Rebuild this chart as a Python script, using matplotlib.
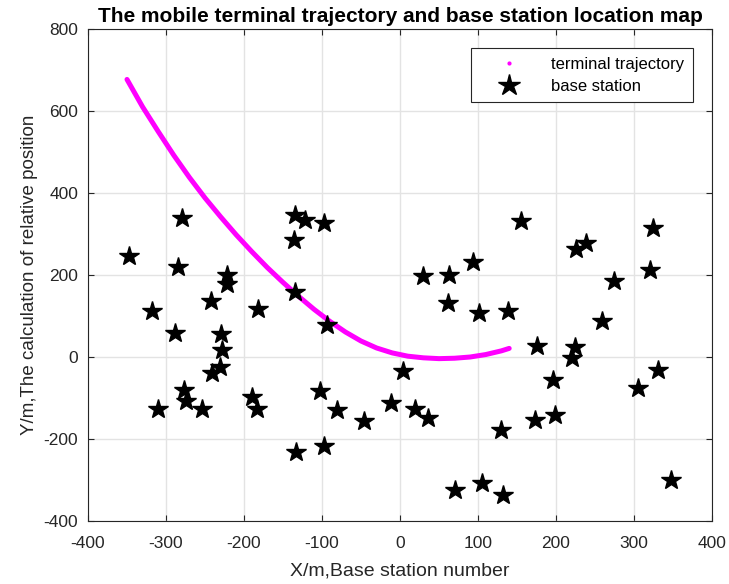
import numpy as np
import matplotlib
matplotlib.use("Agg")
import matplotlib.pyplot as plt
from matplotlib.lines import Line2D

plt.rcParams["font.family"] = ["Liberation Sans", "DejaVu Sans"]
plt.rcParams["axes.unicode_minus"] = False

# trajectory
traj_x = [-350, -330, -310, -290, -270, -250, -230, -210, -190, -170,
          -150, -130, -110, -90, -70, -50, -30, -10, 10, 30,
          50, 70, 90, 110, 130, 140]
traj_y = [677, 610, 550, 492, 438, 388, 342, 298, 257, 218,
          182, 148, 116, 87, 61, 39, 22, 10, 2, -2,
          -4, -3, 0, 6, 15, 21]

# base station positions
bs_x = [-348, -318, -280, -284, -289, -310, -277, -274, -254, -242,
        -222, -222, -229, -228, -231, -241, -182, -190, -183,
        -135, -122, -97, -136, -135, -93, -103, -81, -46, -12,
        4, 19, 36, -133, -98, 29, 63, 61,
        155, 94, 101, 138, 226, 238, 324, 321, 274, 259,
        176, 224, 220, 196, 199, 173, 130, 305, 331, 347, 70, 105, 132]
bs_y = [246, 111, 339, 220, 58, -126, -81, -107, -126, 137,
        201, 179, 57, 16, -24, -38, 116, -98, -128,
        346, 335, 327, 285, 158, 79, -83, -130, -156, -112,
        -35, -126, -149, -232, -217, 197, 201, 132,
        332, 232, 107, 112, 264, 279, 315, 211, 185, 87,
        27, 24, -2, -57, -142, -153, -177, -75, -32, -299, -325, -307, -337]

fig = plt.figure(figsize=(7.29, 5.84), dpi=100)
ax = fig.add_axes([88 / 729, 1 - 521 / 584, 624 / 729, 492 / 584])

ax.plot(traj_x, traj_y, color="#ff00ff", lw=3.6, solid_capstyle="round",
        solid_joinstyle="round")
ax.plot(bs_x, bs_y, linestyle="none", marker="*", color="black",
        markersize=15)

ax.set_xlim(-400, 400)
ax.set_ylim(-400, 800)
ax.set_xticks(np.arange(-400, 401, 100))
ax.set_yticks(np.arange(-400, 801, 200))
ax.grid(True, color="#e3e3e3", linewidth=1)
ax.set_axisbelow(True)
ax.tick_params(direction="in", top=True, right=True, labelsize=12.5,
               colors="#262626", length=4)
ax.tick_params(axis="y", pad=7)
ax.tick_params(axis="x", pad=11)
for s in ax.spines.values():
    s.set_color("#262626")
    s.set_linewidth(0.8)

ax.set_xlabel("X/m,Base station number", fontsize=14, color="#262626",
              labelpad=8)
ax.set_ylabel("Y/m,The calculation of relative position", fontsize=13.5,
              color="#262626", labelpad=4)
ax.set_title("The mobile terminal trajectory and base station location map",
             fontsize=15, fontweight="bold", pad=5)

handles = [
    Line2D([], [], linestyle="none", marker=".", color="#ff00ff",
           markersize=4),
    Line2D([], [], linestyle="none", marker="*", color="black",
           markersize=16),
]
leg = ax.legend(handles, ["terminal trajectory", "base station"],
                loc="upper right", bbox_to_anchor=(0.969, 0.961),
                fontsize=12, fancybox=False, edgecolor="#262626",
                framealpha=1, handlelength=3.5, borderpad=0.5,
                labelspacing=0.45, borderaxespad=0)
leg.get_frame().set_linewidth(0.8)

fig.savefig("out.png", dpi=100)
